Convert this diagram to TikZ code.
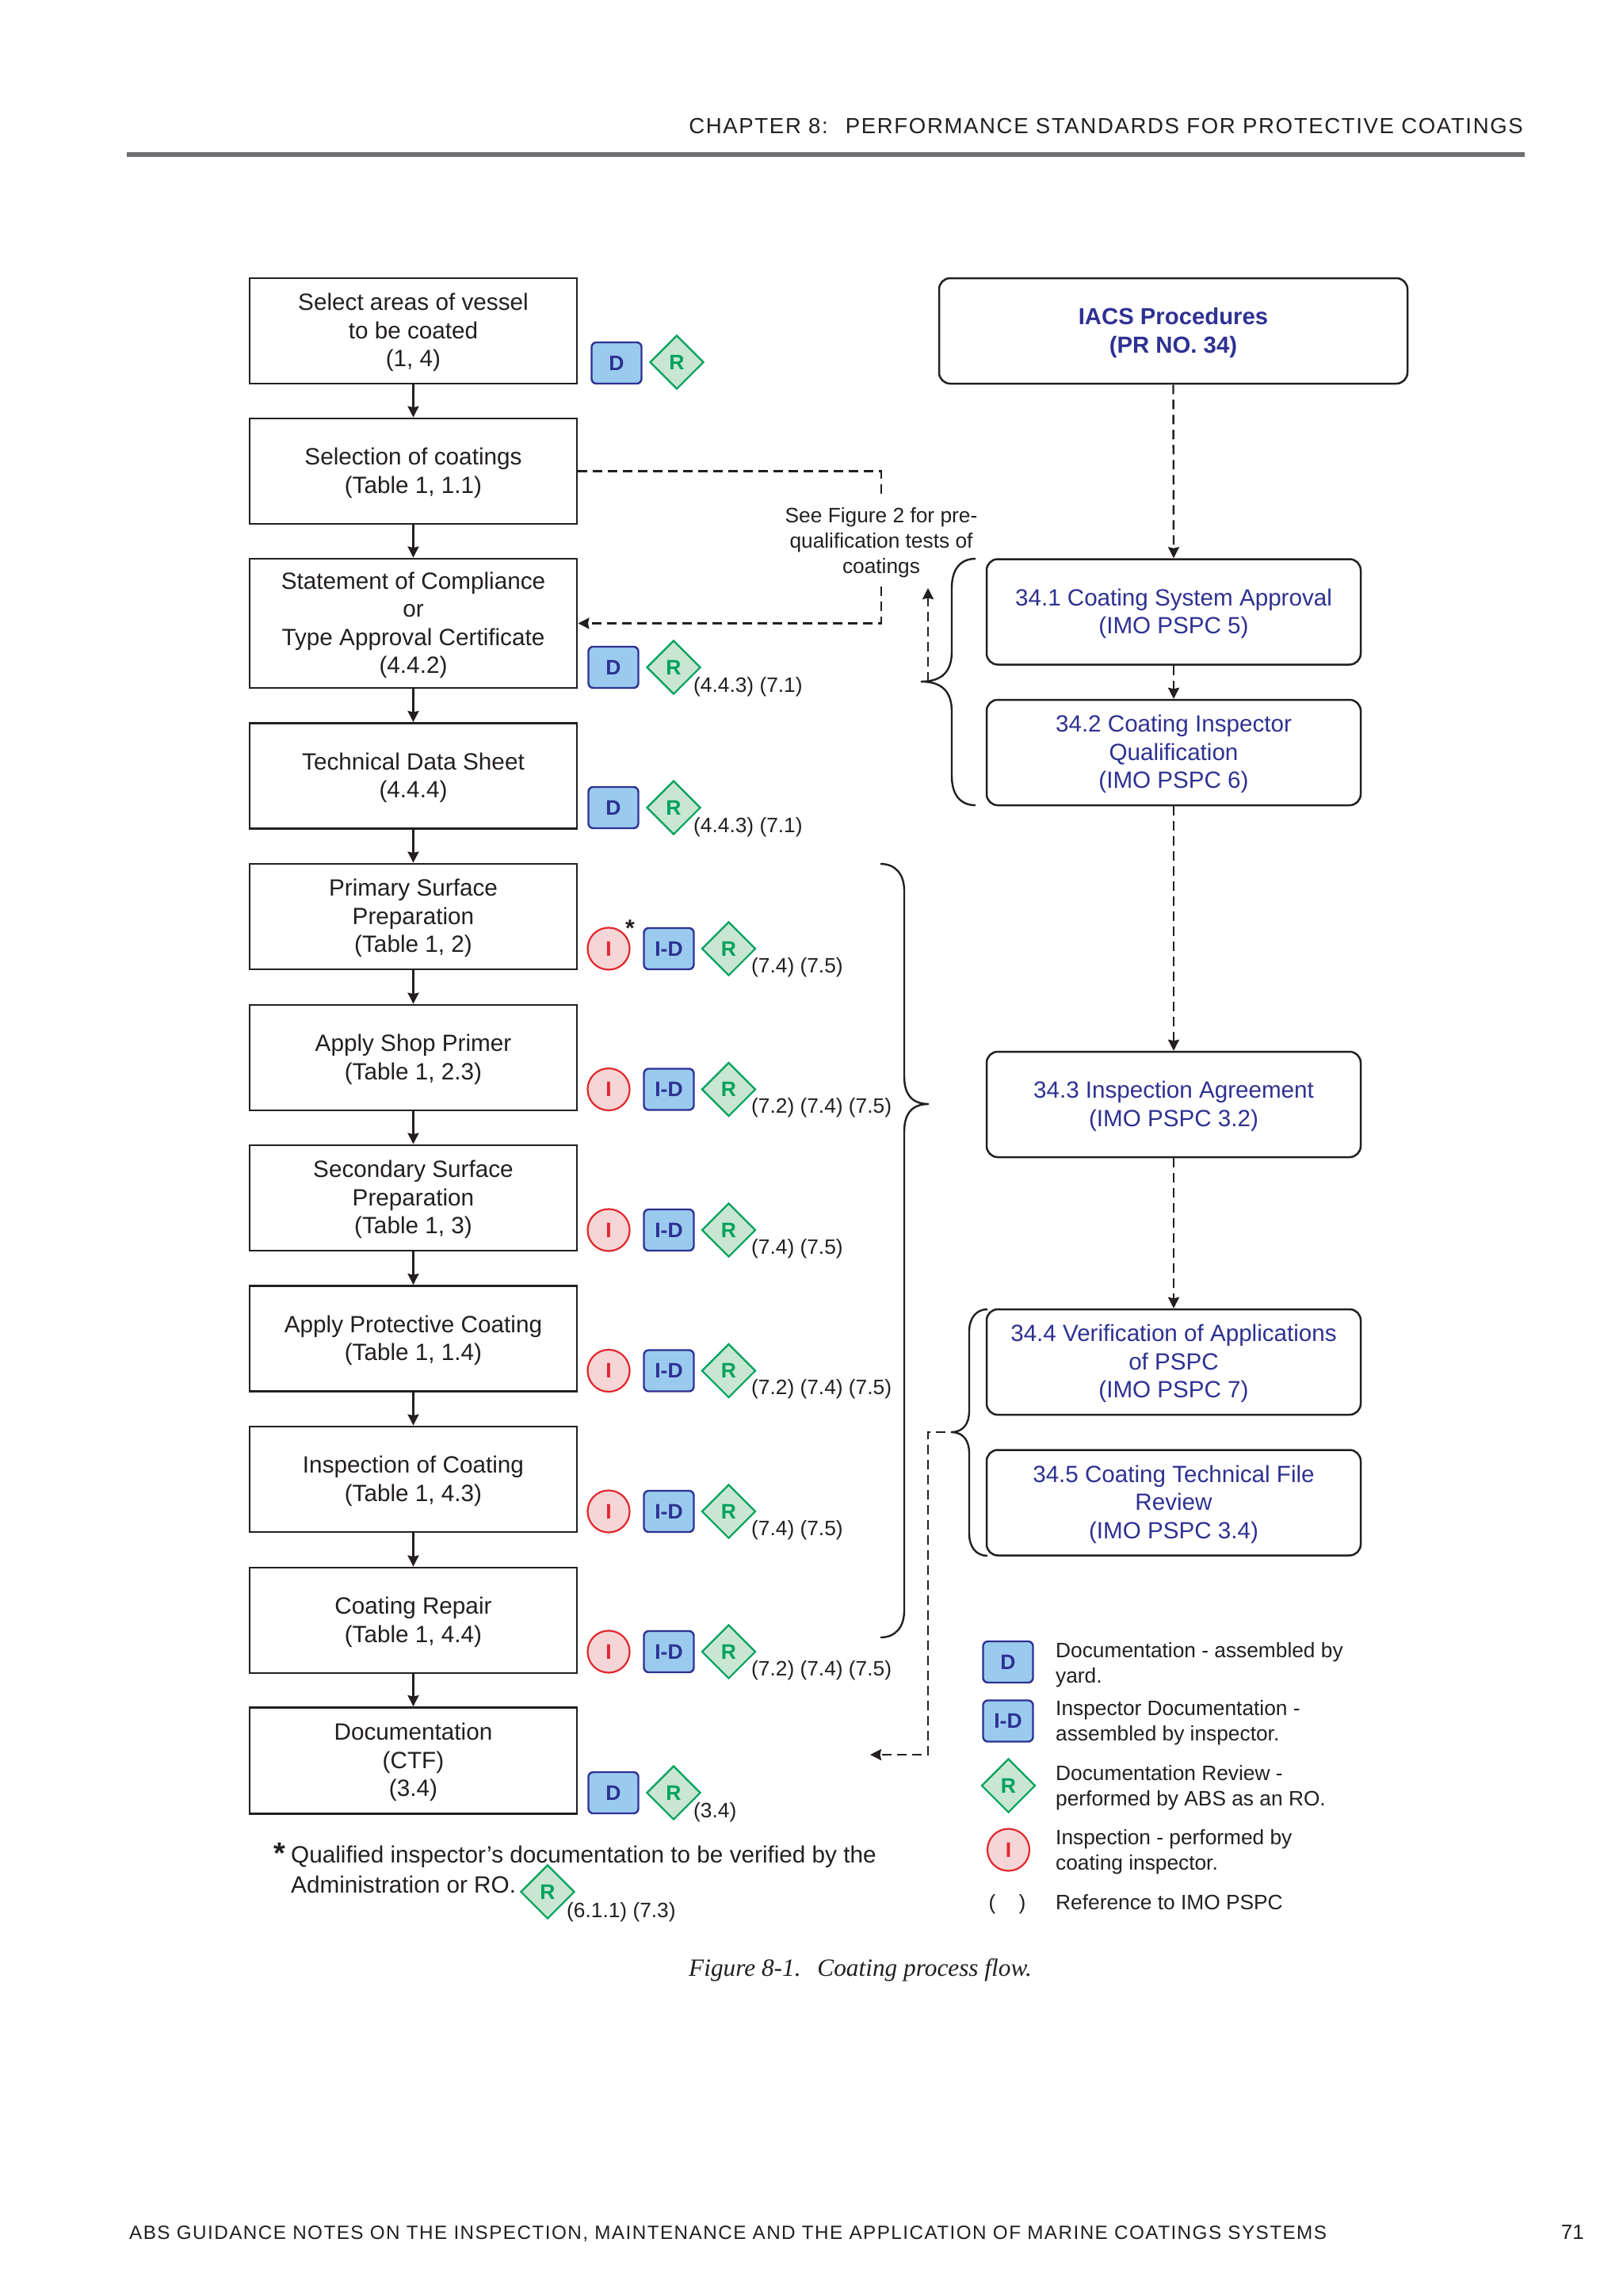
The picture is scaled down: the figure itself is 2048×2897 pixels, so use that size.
\documentclass[tikz,border=0pt]{standalone}
\usepackage{fontspec}
\setmainfont{Liberation Sans}
\newfontfamily\capfont[ItalicFont={Liberation Serif Italic}]{Liberation Serif}
\newfontfamily\hdfont[LetterSpace=6.0]{Liberation Sans}
\usetikzlibrary{arrows.meta,shapes.geometric}
\definecolor{ink}{HTML}{231F20}
\definecolor{navy}{HTML}{2E3192}
\definecolor{dfill}{HTML}{9ACBEF}
\definecolor{rfill}{HTML}{C9E6D2}
\definecolor{rline}{HTML}{00A25D}
\definecolor{ifill}{HTML}{F5D5D6}
\definecolor{iline}{HTML}{E3262E}
\definecolor{rulegray}{HTML}{6D6E71}
\newcommand\mainsz{\fontsize{29.7}{35.5}\selectfont}
\newcommand\bluesz{\fontsize{29.6}{35.5}\selectfont}
\newcommand\smallsz{\fontsize{26.3}{32}\selectfont}
\newcommand\badgesz{\bfseries\fontsize{26.5}{30}\selectfont}
\newcommand\up{\rule{0pt}{26pt}}
\tikzset{
  x=1pt,y=-1pt,
  stepbox/.style={draw=ink,line width=2.9pt,fill=white,minimum width=413pt,font=\mainsz,text=ink,align=center,inner sep=0pt},
  iacsbox/.style={draw=ink,line width=2.5pt,fill=white,rounded corners=14pt,minimum width=472pt,minimum height=133pt,font=\bluesz,text=navy,align=center,inner sep=0pt},
  dbadge/.style={draw=navy,line width=2.4pt,fill=dfill,rounded corners=6pt,minimum width=63pt,minimum height=52pt,inner sep=0pt,text=navy,font=\badgesz},
  rbadge/.style={diamond,aspect=1,draw=rline,line width=2.2pt,fill=rfill,minimum width=68pt,minimum height=68pt,inner sep=0pt,text=rline,font=\badgesz},
  ibadge/.style={circle,draw=iline,line width=2.2pt,fill=ifill,minimum size=53pt,inner sep=0pt,text=iline,font=\badgesz},
  reftext/.style={anchor=base west,font=\smallsz,text=ink,inner sep=0pt},
  legtext/.style={anchor=base west,font=\smallsz,text=ink,inner sep=0pt,align=left},
  flow/.style={draw=ink,line width=2.4pt,-{Stealth[length=14pt,width=14pt,inset=1.5pt]}},
  dashflow/.style={draw=ink,line width=2.4pt,dash pattern=on 12pt off 7pt,-{Stealth[length=14pt,width=14pt,inset=1.5pt]}},
  dashplain/.style={draw=ink,line width=2.4pt,dash pattern=on 12pt off 7pt},
  bracket/.style={draw=ink,line width=2.4pt},
}
\newcommand\insprow[3]{% name, y, text
  \node[ibadge] (i#1) at (768,#2) {I};
  \node[dbadge] (id#1) at (844,#2) {I-D};
  \node[rbadge] (r#1) at (919.5,#2) {R};
  \node[reftext] (t#1) at (948,#2+30) {#3};
}
\newcommand\docrow[3]{% name, y, text
  \node[dbadge] (d#1) at (774,#2) {D};
  \node[rbadge] (r#1) at (850,#2) {R};
  \node[reftext] (t#1) at (875,#2+31) {#3};
}
\begin{document}
\begin{tikzpicture}
\useasboundingbox (0,0) rectangle (2048,2897);
\fill[white] (0,0) rectangle (2048,2897);

% header / footer
\node[anchor=base east,inner sep=0pt,text=ink,font=\hdfont\fontsize{27.55}{30}\selectfont] (header) at (1922,168) {CHAPTER 8:\hspace{0.8em}PERFORMANCE STANDARDS FOR PROTECTIVE COATINGS};
\coordinate (ruleL) at (160,195);
\coordinate (ruleR) at (1924,195);
\draw[rulegray,line width=6pt] (ruleL) -- (ruleR);
\node[anchor=base west,inner sep=0pt,text=ink,font=\hdfont\fontsize{24.26}{30}\selectfont] (footer) at (163,2825) {ABS GUIDANCE NOTES ON THE INSPECTION, MAINTENANCE AND THE APPLICATION OF MARINE COATINGS SYSTEMS};
\node[anchor=base east,inner sep=0pt,text=ink,font=\fontsize{26}{30}\selectfont] (pageno) at (1999,2825) {71};

% left column
\node[stepbox,minimum height=133pt] (b1) at (521.5,417.5) {\up Select areas of vessel\\to be coated\\(1, 4)};
\node[stepbox,minimum height=133pt] (b2) at (521.5,594.5) {\up Selection of coatings\\(Table 1, 1.1)};
\node[stepbox,minimum height=163pt] (b3) at (521.5,786.5) {\up Statement of Compliance\\or\\Type Approval Certificate\\(4.4.2)};
\node[stepbox,minimum height=133pt] (b4) at (521.5,979) {\up Technical Data Sheet\\(4.4.4)};
\node[stepbox,minimum height=133pt] (b5) at (521.5,1156.5) {\up Primary Surface\\Preparation\\(Table 1, 2)};
\node[stepbox,minimum height=133pt] (b6) at (521.5,1334.5) {\up Apply Shop Primer\\(Table 1, 2.3)};
\node[stepbox,minimum height=133pt] (b7) at (521.5,1511.5) {\up Secondary Surface\\Preparation\\(Table 1, 3)};
\node[stepbox,minimum height=133pt] (b8) at (521.5,1689) {\up Apply Protective Coating\\(Table 1, 1.4)};
\node[stepbox,minimum height=133pt] (b9) at (521.5,1866.5) {\up Inspection of Coating\\(Table 1, 4.3)};
\node[stepbox,minimum height=133pt] (b10) at (521.5,2044.5) {\up Coating Repair\\(Table 1, 4.4)};
\node[stepbox,minimum height=134pt] (b11) at (521.5,2221.5) {\up Documentation\\(CTF)\\(3.4)};
\foreach \a/\b in {b1/b2,b2/b3,b3/b4,b4/b5,b5/b6,b6/b7,b7/b8,b8/b9,b9/b10,b10/b11}
  \draw[flow] (\a.south) -- (\b.north);

% right column
\node[iacsbox,minimum width=591pt,font=\bfseries\fontsize{29.3}{35.5}\selectfont] (iacs) at (1480.5,417.5) {\up IACS Procedures\\(PR NO. 34)};
\node[iacsbox] (p1) at (1481,772) {\up 34.1 Coating System Approval\\(IMO PSPC 5)};
\node[iacsbox] (p2) at (1481,949.5) {\up 34.2 Coating Inspector\\Qualification\\(IMO PSPC 6)};
\node[iacsbox] (p3) at (1481,1393.5) {\up 34.3 Inspection Agreement\\(IMO PSPC 3.2)};
\node[iacsbox] (p4) at (1481,1718.5) {\up 34.4 Verification of Applications\\of PSPC\\(IMO PSPC 7)};
\node[iacsbox] (p5) at (1481,1896) {\up 34.5 Coating Technical File\\Review\\(IMO PSPC 3.4)};
\draw[dashflow] (iacs.south) -- (p1.north);
\draw[dashflow] (p1.south) -- (p2.north);
\draw[dashflow] (p2.south) -- (p3.north);
\draw[dashflow] (p3.south) -- (p4.north);

% prequalification label
\node[font=\smallsz,text=ink,align=center,inner sep=0pt,minimum height=110pt] (see) at (1112,685) {See Figure 2 for pre-\\qualification tests of\\coatings};
\draw[dashplain] (b2.east) -| (see.north);
\draw[dashflow] (see.south) |- (b3.east);

% braces
\coordinate (tipA) at (1171,860);
\coordinate (arrA) at (1171,742);
\draw[bracket] (1231,705) .. controls (1212,705) and (1201,718) .. (1201,742) -- (1201,822) .. controls (1201,846) and (1190,860) .. (1162,860) .. controls (1190,860) and (1201,874) .. (1201,898) -- (1201,979) .. controls (1201,1003) and (1212,1016) .. (1231,1016);
\draw[dashflow] (tipA) -- (arrA);

\draw[bracket] (1111,1090) .. controls (1130,1090) and (1141,1103) .. (1141,1124) -- (1141,1358) .. controls (1141,1380) and (1150,1393) .. (1172,1393) .. controls (1150,1393) and (1141,1406) .. (1141,1428) -- (1141,2032) .. controls (1141,2053) and (1130,2066) .. (1111,2066);

\coordinate (tipC) at (1193,1807);
\coordinate (cornerC) at (1171,2214);
\coordinate (arrC) at (1098,2214);
\draw[bracket] (1246,1652) .. controls (1232,1652) and (1223,1663) .. (1223,1680) -- (1223,1780) .. controls (1223,1796) and (1216,1807) .. (1200,1807) .. controls (1216,1807) and (1223,1818) .. (1223,1834) -- (1223,1935) .. controls (1223,1952) and (1232,1963) .. (1246,1963);
\draw[dashflow] (tipC) -| (cornerC) -- (arrC);

% badges
\node[dbadge] (d1) at (778,458) {D};
\node[rbadge] (r1) at (854,457) {R};
\docrow{3}{842}{(4.4.3) (7.1)}
\docrow{4}{1019}{(4.4.3) (7.1)}
\insprow{5}{1197}{(7.4) (7.5)}
\insprow{6}{1374.5}{(7.2) (7.4) (7.5)}
\insprow{7}{1552}{(7.4) (7.5)}
\insprow{8}{1729.5}{(7.2) (7.4) (7.5)}
\insprow{9}{1907}{(7.4) (7.5)}
\insprow{10}{2084}{(7.2) (7.4) (7.5)}
\docrow{11}{2262}{(3.4)}
\node[anchor=center,inner sep=0pt,font=\bfseries\fontsize{30}{30}\selectfont,text=ink] (star) at (795,1171) {*};

% footnote
\node[anchor=base west,inner sep=0pt,font=\bfseries\fontsize{38}{38}\selectfont,text=ink] (fstar) at (345,2351) {*};
\node[anchor=base west,inner sep=0pt,font=\fontsize{29.7}{39}\selectfont,text=ink] (fn1) at (367,2350) {Qualified inspector’s documentation to be verified by the};
\node[anchor=base west,inner sep=0pt,font=\fontsize{29.7}{39}\selectfont,text=ink] (fn2) at (367,2388) {Administration or RO.};
\node[rbadge] (rf) at (691,2387) {R};
\node[reftext] (tf) at (715,2419) {(6.1.1) (7.3)};

% caption
\node[anchor=base west,inner sep=0pt,font=\capfont\itshape\fontsize{31.3}{36}\selectfont,text=ink] (caption) at (869,2493) {Figure 8-1.\, \,Coating process flow.};

% legend
\node[dbadge] (ld) at (1272,2097) {D};
\node[dbadge] (lid) at (1272,2171.5) {I-D};
\node[rbadge] (lr) at (1272.5,2253) {R};
\node[ibadge] (li) at (1272.5,2334) {I};
\node[anchor=base,inner sep=0pt,font=\smallsz,text=ink] (lp1) at (1252,2409) {(};
\node[anchor=base,inner sep=0pt,font=\smallsz,text=ink] (lp2) at (1290,2409) {)};
\node[legtext] (l1) at (1332,2123) {Documentation - assembled by\\yard.};
\node[legtext] (l2) at (1332,2196) {Inspector Documentation -\\assembled by inspector.};
\node[legtext] (l3) at (1332,2278) {Documentation Review -\\performed by ABS as an RO.};
\node[legtext] (l4) at (1332,2359) {Inspection - performed by\\coating inspector.};
\node[legtext] (l5) at (1332,2409) {Reference to IMO PSPC};
\end{tikzpicture}
\end{document}
